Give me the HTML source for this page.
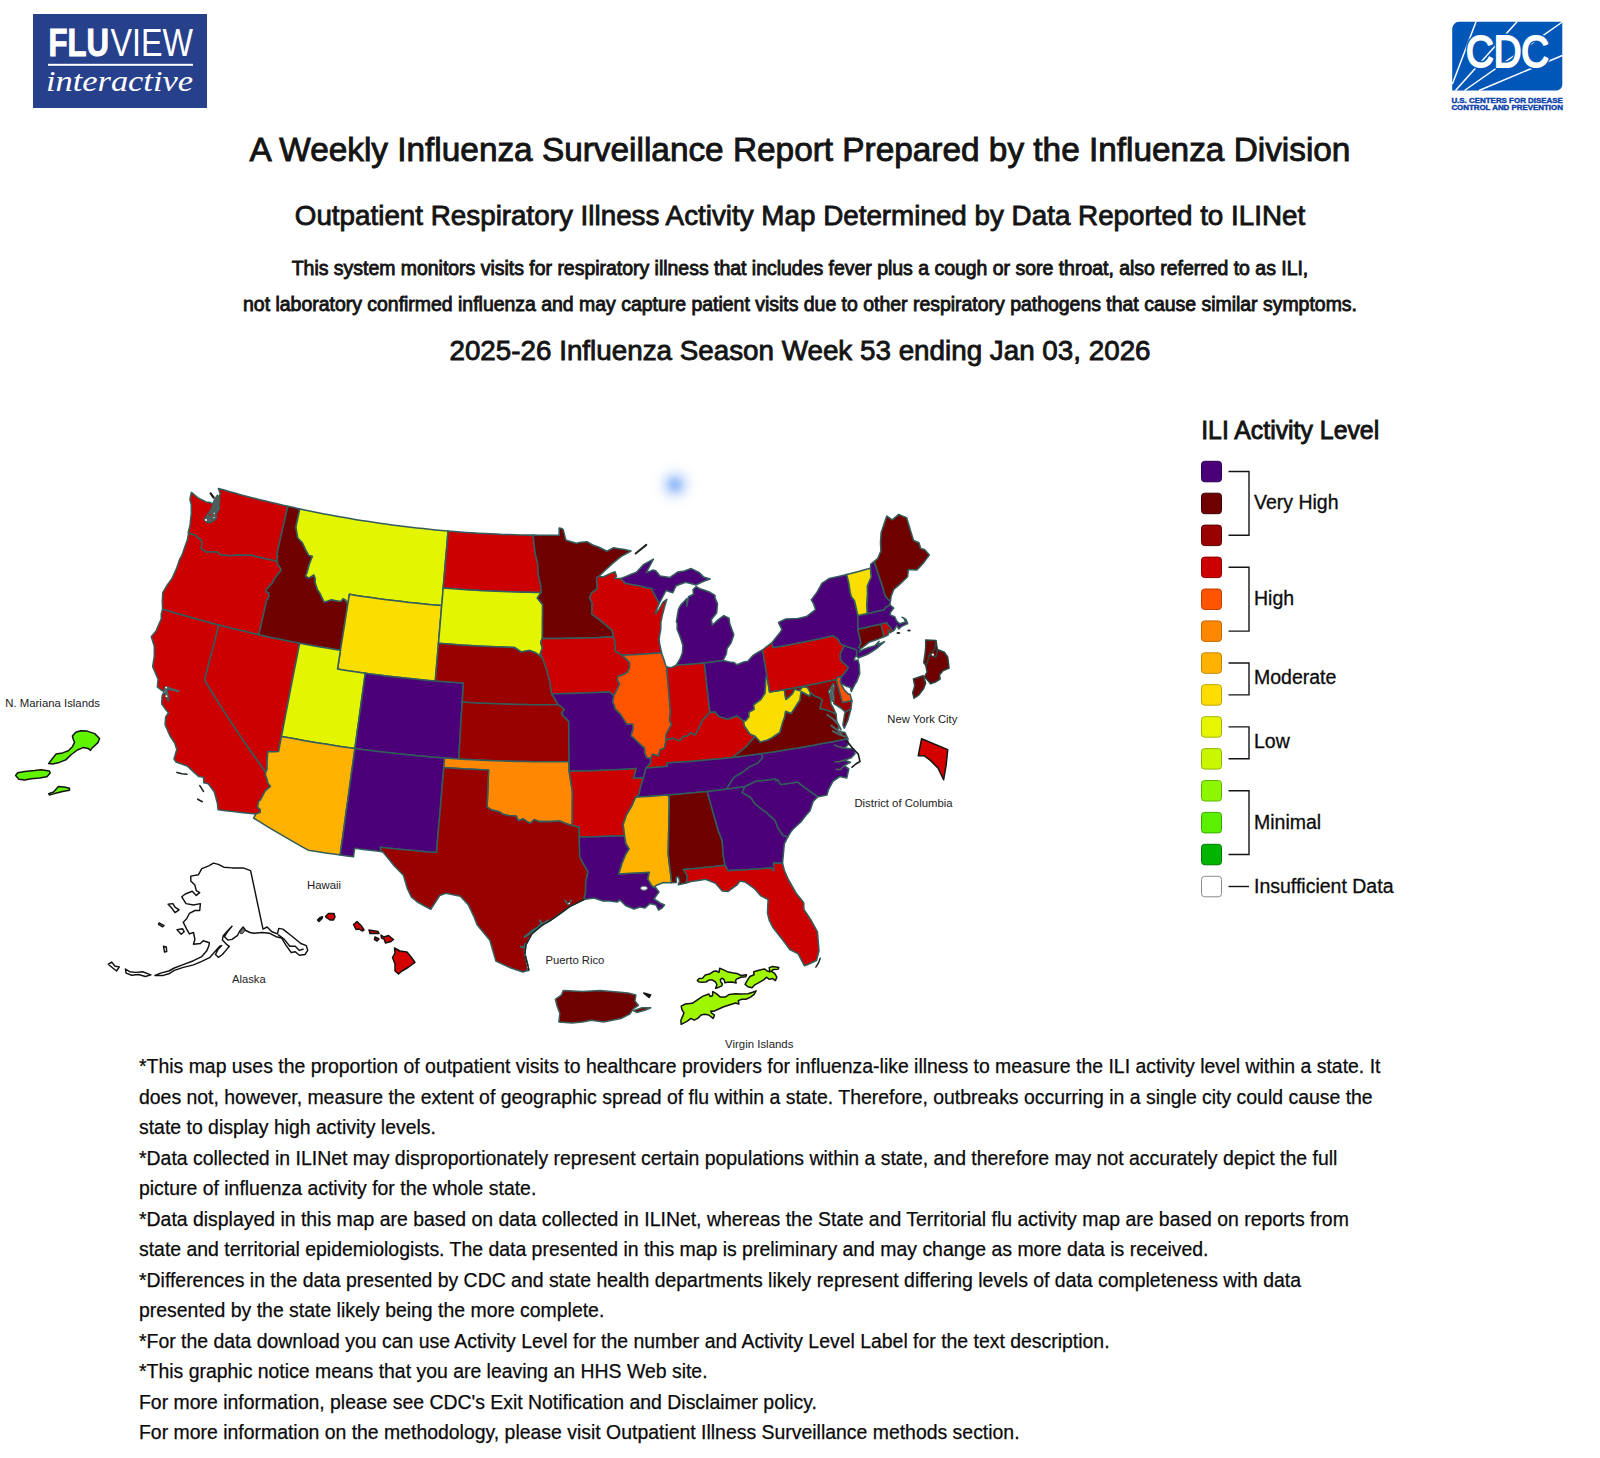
<!DOCTYPE html>
<html lang="en"><head><meta charset="utf-8"><title>FluView Interactive - ILI Activity Map</title>
<style>
html,body{margin:0;padding:0;background:#fff}
body{width:1600px;height:1458px;position:relative;overflow:hidden;font-family:"Liberation Sans",Arial,sans-serif;color:#111}
.t{position:absolute;left:0;width:1600px;text-align:center;white-space:nowrap;color:#141414}
#t1{top:130.2px;font-size:33.36px;line-height:40px;-webkit-text-stroke:0.9px #141414}
#t2{top:199.1px;font-size:27.8px;line-height:34px;-webkit-text-stroke:0.85px #141414}
#t3{top:256.3px;font-size:19.44px;line-height:24px;-webkit-text-stroke:0.85px #141414}
#t4{top:292.3px;font-size:19.44px;line-height:24px;-webkit-text-stroke:0.85px #141414}
#t5{top:334.4px;font-size:27.8px;line-height:34px;-webkit-text-stroke:0.85px #141414}
#foot{position:absolute;left:139px;top:1051px;width:1400px;font-size:19.43px;line-height:30.5px;color:#0a0a0a;white-space:nowrap;-webkit-text-stroke:0.25px #0a0a0a}
#foot div{height:30.5px}
svg{position:absolute;left:0;top:0}
.s{stroke:#345c5c;stroke-width:1.55;stroke-linejoin:round}
.i{stroke:#3f5f5f;stroke-width:1.5;stroke-linejoin:round}.ik{stroke:#141414;stroke-width:1.5;stroke-linejoin:round}.i2{stroke:#2c4646;stroke-width:1.5;stroke-linejoin:round}.ak{stroke:#111;stroke-width:1.45;stroke-linejoin:round}
.lab{font-family:"Liberation Sans",Arial,sans-serif;font-size:10.5px;fill:#222}
.leg{font-family:"Liberation Sans",Arial,sans-serif;font-size:19.5px;fill:#0c0c0c;stroke:#0c0c0c;stroke-width:0.3px}
</style></head><body>
<div class="t" id="t1">A Weekly Influenza Surveillance Report Prepared by the Influenza Division</div>
<div class="t" id="t2">Outpatient Respiratory Illness Activity Map Determined by Data Reported to ILINet</div>
<div class="t" id="t3">This system monitors visits for respiratory illness that includes fever plus a cough or sore throat, also referred to as ILI,</div>
<div class="t" id="t4">not laboratory confirmed influenza and may capture patient visits due to other respiratory pathogens that cause similar symptoms.</div>
<div class="t" id="t5">2025-26 Influenza Season Week 53 ending Jan 03, 2026</div>
<svg width="1600" height="1458" viewBox="0 0 1600 1458">
<defs><radialGradient id="bl"><stop offset="0" stop-color="#98bdf8" stop-opacity="1"/><stop offset="0.2" stop-color="#a0c2f8" stop-opacity="0.85"/><stop offset="0.45" stop-color="#b0ccfa" stop-opacity="0.42"/><stop offset="0.7" stop-color="#c0d8fc" stop-opacity="0.12"/><stop offset="1" stop-color="#d0e0ff" stop-opacity="0"/></radialGradient></defs>
<circle cx="675" cy="484.6" r="25" fill="url(#bl)"/>
<g id="fluview">
<rect x="33" y="14" width="174" height="94" fill="#27408b"/>
<text x="48.5" y="56.2" font-family="Liberation Sans,Arial,sans-serif" font-weight="700" font-size="38" fill="#fff" stroke="#fff" stroke-width="1" textLength="60.5" lengthAdjust="spacingAndGlyphs">FLU</text>
<text x="110.5" y="56.2" font-family="Liberation Sans,Arial,sans-serif" font-weight="400" font-size="38" fill="#fff" textLength="82.5" lengthAdjust="spacingAndGlyphs">VIEW</text>
<rect x="48" y="63.8" width="145" height="2" fill="#fff"/>
<text x="46" y="91.2" font-family="Liberation Serif,serif" font-style="italic" font-size="29" fill="#fff" textLength="147" lengthAdjust="spacingAndGlyphs">interactive</text>
</g>
<g id="cdc">
<path d="M1459,21.8H1562.3V84.5a6,6 0 0 1 -6,6H1452.2V28.8a7,7 0 0 1 6.8,-7Z" fill="#0057b8"/>
<g stroke="#fff" stroke-width="1.5" fill="none"><path d="M1452.4,84L1476,21.8"/><path d="M1455.5,90.5L1517,21.8"/><path d="M1464.5,90.5L1562.3,22"/><path d="M1479,90.5L1562.3,55.5"/></g>
<text x="1466" y="67" font-family="Liberation Sans,Arial,sans-serif" font-weight="400" font-size="43.5" fill="#0057b8" stroke="#0057b8" stroke-width="5" stroke-linejoin="round" textLength="83" lengthAdjust="spacingAndGlyphs">CDC</text><text x="1466" y="67" font-family="Liberation Sans,Arial,sans-serif" font-weight="400" font-size="43.5" fill="#fff" stroke="#fff" stroke-width="2" stroke-linejoin="round" textLength="83" lengthAdjust="spacingAndGlyphs">CDC</text>
<text x="1451.4" y="102.7" font-family="Liberation Sans,Arial,sans-serif" font-weight="700" font-size="7.2" fill="#0a3ea8" stroke="#0a3ea8" stroke-width="0.4" textLength="111.5" lengthAdjust="spacingAndGlyphs">U.S. CENTERS FOR DISEASE</text>
<text x="1451.4" y="110.2" font-family="Liberation Sans,Arial,sans-serif" font-weight="700" font-size="7.2" fill="#0a3ea8" stroke="#0a3ea8" stroke-width="0.4" textLength="111.5" lengthAdjust="spacingAndGlyphs">CONTROL AND PREVENTION</text>
</g>
<g id="map">
<path class="s" fill="#cc0000" d="M188.6,533.2L188.2,532.5L190.0,525.8L190.5,520.5L191.3,513.5L191.3,504.7L189.9,499.3L191.4,492.4L194.7,495.2L198.0,497.9L202.1,499.9L206.1,501.9L209.9,502.5L213.6,504.1L214.1,508.5L213.8,514.3L206.8,522.0L209.3,522.7L214.1,520.2L216.1,514.0L219.2,509.0L218.9,503.1L218.1,499.0L220.3,493.8L218.4,488.5L224.2,490.1L229.9,491.7L235.7,493.3L241.4,494.9L247.2,496.4L253.0,497.9L258.8,499.4L264.6,500.8L270.4,502.2L276.2,503.6L282.0,505.0L287.8,506.3L286.0,514.0L284.3,521.8L282.5,529.6L280.7,537.4L278.9,545.3L277.1,553.1L277.6,558.2L276.9,561.3L271.6,560.1L266.3,558.9L261.1,557.7L255.8,556.4L250.5,555.1L246.3,555.4L241.8,555.2L237.3,555.1L233.6,555.4L229.9,555.7L225.3,555.3L220.6,554.9L216.9,551.8L212.0,552.1L207.0,552.3L204.0,550.5L201.0,548.7L201.7,544.5L201.5,540.4L198.1,538.0L194.9,534.9L188.6,533.2Z"/>
<path class="s" fill="#cc0000" d="M188.6,533.2L194.9,534.9L198.1,538.0L201.5,540.4L201.7,544.5L201.0,548.7L204.0,550.5L207.0,552.3L212.0,552.1L216.9,551.8L220.6,554.9L225.3,555.3L229.9,555.7L233.6,555.4L237.3,555.1L241.8,555.2L246.3,555.4L250.5,555.1L255.8,556.4L261.1,557.7L266.3,558.9L271.6,560.1L276.9,561.3L278.3,565.1L280.9,568.9L280.8,570.9L278.6,573.2L276.6,575.9L273.6,580.4L272.4,582.7L266.9,589.0L265.8,591.6L269.0,593.3L268.9,596.6L266.5,600.9L264.6,609.3L262.7,617.8L260.8,626.2L258.9,634.7L252.2,633.2L245.5,631.6L238.8,630.0L232.2,628.4L225.5,626.7L218.8,625.0L212.5,623.4L206.3,621.7L200.0,620.0L193.7,618.3L187.5,616.5L181.2,614.7L175.0,612.9L168.8,611.0L162.6,609.2L162.3,601.1L162.8,592.6L167.3,584.9L172.1,578.4L174.4,573.2L176.7,568.0L179.8,559.1L181.8,555.7L184.9,546.8L187.4,539.7L188.6,533.2Z"/>
<path class="s" fill="#cc0000" d="M162.6,609.2L168.8,611.0L175.0,612.9L181.2,614.7L187.5,616.5L193.7,618.3L200.0,620.0L206.3,621.7L212.5,623.4L218.8,625.0L216.5,634.2L214.1,643.4L211.7,652.6L209.3,661.8L207.0,670.9L204.6,680.1L209.8,688.6L215.0,697.0L220.3,705.4L225.7,713.8L231.2,722.2L236.7,730.6L242.3,738.9L248.1,747.2L253.8,755.5L259.7,763.7L265.6,772.0L265.5,774.9L267.2,780.0L267.8,783.0L270.5,786.5L267.5,788.8L265.0,791.2L262.3,796.5L260.5,800.0L258.6,801.5L257.5,807.1L260.2,809.6L260.2,812.4L255.8,814.1L248.3,813.3L240.7,812.5L233.2,811.6L225.6,810.7L218.1,809.7L217.4,803.4L215.9,797.7L214.4,792.0L208.3,783.8L203.8,782.7L203.5,777.2L198.9,776.6L193.0,771.3L187.2,765.9L181.6,764.0L176.0,762.0L174.0,758.9L175.4,754.2L176.8,749.5L174.7,743.0L169.9,735.8L165.1,724.6L165.7,716.9L168.5,712.8L166.1,710.1L161.7,703.9L162.1,696.1L163.7,692.6L165.0,693.4L167.5,699.7L168.7,701.0L168.1,694.9L166.7,691.5L168.2,689.0L171.7,690.0L167.9,687.5L164.9,687.1L163.9,691.7L161.1,689.9L157.4,686.9L158.1,679.2L155.4,672.9L152.7,666.7L153.5,661.4L154.3,656.2L154.3,646.3L151.3,636.7L156.0,631.0L158.7,624.8L161.3,618.7L161.3,613.7L162.6,609.2Z"/>
<path class="s" fill="#cc0000" d="M218.8,625.0L225.5,626.7L232.2,628.4L238.8,630.0L245.5,631.6L252.2,633.2L258.9,634.7L265.7,636.2L272.4,637.7L279.2,639.1L286.0,640.5L292.8,641.8L299.6,643.2L297.8,652.5L296.0,661.8L294.1,671.1L292.3,680.4L290.5,689.7L288.7,699.1L286.9,708.4L285.1,717.7L283.3,727.0L281.5,736.4L280.0,743.9L278.6,751.5L273.9,751.7L267.8,751.5L267.7,753.0L267.1,760.7L267.0,769.5L265.6,772.0L259.7,763.7L253.8,755.5L248.1,747.2L242.3,738.9L236.7,730.6L231.2,722.2L225.7,713.8L220.3,705.4L215.0,697.0L209.8,688.6L204.6,680.1L207.0,670.9L209.3,661.8L211.7,652.6L214.1,643.4L216.5,634.2L218.8,625.0Z"/>
<path class="s" fill="#6e0000" d="M287.8,506.3L293.8,507.6L299.8,508.9L297.8,518.0L295.9,527.1L296.8,532.6L297.8,538.0L302.4,542.8L305.6,549.6L309.0,555.6L312.4,556.3L309.3,564.3L306.9,573.0L305.6,576.0L308.6,578.1L313.1,575.5L313.9,574.9L315.2,578.4L315.1,582.6L317.5,589.8L319.7,592.9L321.8,597.3L324.0,601.9L327.8,600.9L331.6,599.8L336.2,600.7L340.8,601.5L343.0,598.8L345.4,600.0L347.8,604.2L346.3,613.4L344.9,622.6L343.4,631.9L341.9,641.1L340.4,650.3L333.6,649.2L326.8,648.1L320.0,646.9L313.2,645.7L306.4,644.4L299.6,643.2L292.8,641.8L286.0,640.5L279.2,639.1L272.4,637.7L265.7,636.2L258.9,634.7L260.8,626.2L262.7,617.8L264.6,609.3L266.5,600.9L268.9,596.6L269.0,593.3L265.8,591.6L266.9,589.0L272.4,582.7L273.6,580.4L276.6,575.9L278.6,573.2L280.8,570.9L280.9,568.9L278.3,565.1L276.9,561.3L277.6,558.2L277.1,553.1L278.9,545.3L280.7,537.4L282.5,529.6L284.3,521.8L286.0,514.0L287.8,506.3Z"/>
<path class="s" fill="#e4f500" d="M299.8,508.9L305.9,510.2L312.0,511.5L318.1,512.7L324.3,513.9L330.4,515.0L336.6,516.2L342.7,517.3L348.9,518.3L355.0,519.4L361.2,520.4L367.4,521.3L373.6,522.3L379.7,523.2L385.9,524.1L392.1,524.9L398.3,525.7L404.5,526.5L410.7,527.2L416.9,527.9L423.2,528.6L429.4,529.3L435.6,529.9L441.8,530.4L448.0,531.0L447.4,539.1L446.7,547.2L446.0,555.3L445.3,563.5L444.6,571.6L443.9,579.8L443.2,588.0L442.5,596.8L441.7,605.6L435.1,605.0L428.5,604.4L421.9,603.8L415.3,603.1L408.6,602.4L402.0,601.6L395.4,600.8L388.9,600.0L382.3,599.2L375.7,598.3L369.1,597.3L362.5,596.4L356.0,595.4L349.4,594.3L348.6,599.3L347.8,604.2L345.4,600.0L343.0,598.8L340.8,601.5L336.2,600.7L331.6,599.8L327.8,600.9L324.0,601.9L321.8,597.3L319.7,592.9L317.5,589.8L315.1,582.6L315.2,578.4L313.9,574.9L313.1,575.5L308.6,578.1L305.6,576.0L306.9,573.0L309.3,564.3L312.4,556.3L309.0,555.6L305.6,549.6L302.4,542.8L297.8,538.0L296.8,532.6L295.9,527.1L297.8,518.0L299.8,508.9Z"/>
<path class="s" fill="#f9de00" d="M349.4,594.3L356.0,595.4L362.5,596.4L369.1,597.3L375.7,598.3L382.3,599.2L388.9,600.0L395.4,600.8L402.0,601.6L408.6,602.4L415.3,603.1L421.9,603.8L428.5,604.4L435.1,605.0L441.7,605.6L440.9,615.0L440.1,624.4L439.3,633.8L438.5,643.3L437.7,652.7L436.9,662.1L436.1,671.6L435.3,681.0L428.3,680.4L421.3,679.8L414.3,679.1L407.3,678.3L400.3,677.6L393.3,676.8L386.3,676.0L379.3,675.1L372.3,674.2L365.3,673.2L358.3,672.2L351.4,671.2L344.4,670.2L337.5,669.1L339.0,659.7L340.4,650.3L341.9,641.1L343.4,631.9L344.9,622.6L346.3,613.4L347.8,604.2L348.6,599.3L349.4,594.3Z"/>
<path class="s" fill="#e4f500" d="M299.6,643.2L306.4,644.4L313.2,645.7L320.0,646.9L326.8,648.1L333.6,649.2L340.4,650.3L339.0,659.7L337.5,669.1L344.4,670.2L351.4,671.2L358.3,672.2L365.3,673.2L364.0,682.6L362.7,692.0L361.4,701.4L360.1,710.8L358.8,720.3L357.5,729.7L356.2,739.1L354.9,748.5L347.5,747.5L340.2,746.4L332.8,745.3L325.5,744.1L318.1,742.9L310.8,741.7L303.5,740.4L296.1,739.1L288.8,737.8L281.5,736.4L283.3,727.0L285.1,717.7L286.9,708.4L288.7,699.1L290.5,689.7L292.3,680.4L294.1,671.1L296.0,661.8L297.8,652.5L299.6,643.2Z"/>
<path class="s" fill="#ffb300" d="M281.5,736.4L288.8,737.8L296.1,739.1L303.5,740.4L310.8,741.7L318.1,742.9L325.5,744.1L332.8,745.3L340.2,746.4L347.5,747.5L354.9,748.5L353.7,757.4L352.5,766.3L351.2,775.2L350.0,784.1L348.8,792.9L347.6,801.8L346.3,810.7L345.1,819.6L343.9,828.4L342.7,837.3L341.4,846.1L340.2,855.0L333.8,854.1L327.4,853.2L321.0,852.2L314.6,851.2L308.2,850.2L301.3,846.3L294.4,842.4L287.5,838.4L280.6,834.4L273.8,830.4L267.0,826.3L260.3,822.2L253.6,818.1L255.8,814.1L260.2,812.4L260.2,809.6L257.5,807.1L258.6,801.5L260.5,800.0L262.3,796.5L265.0,791.2L267.5,788.8L270.5,786.5L267.8,783.0L267.2,780.0L265.5,774.9L265.6,772.0L267.0,769.5L267.1,760.7L267.7,753.0L267.8,751.5L273.9,751.7L278.6,751.5L280.0,743.9L281.5,736.4Z"/>
<path class="s" fill="#4b0078" d="M365.3,673.2L372.3,674.2L379.3,675.1L386.3,676.0L393.3,676.8L400.3,677.6L407.3,678.3L414.3,679.1L421.3,679.8L428.3,680.4L435.3,681.0L442.3,681.6L449.3,682.1L456.4,682.6L463.4,683.1L462.8,692.6L462.2,702.1L461.6,711.5L461.0,721.0L460.5,730.5L459.9,740.0L459.3,749.5L458.7,759.0L451.6,758.5L444.5,758.0L437.6,757.4L430.6,756.9L423.7,756.3L416.8,755.7L410.0,755.0L403.1,754.3L396.2,753.6L389.3,752.8L382.4,752.0L375.5,751.2L368.7,750.3L361.8,749.4L354.9,748.5L356.2,739.1L357.5,729.7L358.8,720.3L360.1,710.8L361.4,701.4L362.7,692.0L364.0,682.6L365.3,673.2Z"/>
<path class="s" fill="#4b0078" d="M354.9,748.5L361.8,749.4L368.7,750.3L375.5,751.2L382.4,752.0L389.3,752.8L396.2,753.6L403.1,754.3L410.0,755.0L416.8,755.7L423.7,756.3L430.6,756.9L437.6,757.4L444.5,758.0L443.8,767.5L443.0,776.9L442.2,786.4L441.4,795.8L440.6,805.3L439.8,814.7L438.9,824.2L438.1,833.6L437.3,843.1L436.5,852.5L429.5,851.9L422.4,851.4L415.4,850.8L408.4,850.1L401.3,849.4L394.3,848.7L387.3,848.0L380.2,847.2L381.2,851.5L374.5,850.8L367.9,850.0L361.3,849.2L354.6,848.3L353.5,856.8L346.9,855.9L340.2,855.0L341.4,846.1L342.7,837.3L343.9,828.4L345.1,819.6L346.3,810.7L347.6,801.8L348.8,792.9L350.0,784.1L351.2,775.2L352.5,766.3L353.7,757.4L354.9,748.5Z"/>
<path class="s" fill="#cc0000" d="M448.0,531.0L454.1,531.5L460.2,532.0L466.3,532.4L472.3,532.8L478.4,533.2L484.5,533.5L490.6,533.8L496.7,534.1L502.7,534.4L508.8,534.6L514.9,534.8L521.0,534.9L527.1,535.1L533.2,535.1L534.1,544.5L535.2,553.8L537.7,563.2L538.0,568.8L538.2,574.4L539.5,580.0L540.7,585.7L541.2,592.4L534.7,592.4L528.1,592.3L521.6,592.2L515.1,592.0L508.5,591.8L502.0,591.6L495.4,591.3L488.9,591.0L482.4,590.7L475.8,590.3L469.3,589.9L462.8,589.5L456.2,589.0L449.7,588.5L443.2,588.0L443.9,579.8L444.6,571.6L445.3,563.5L446.0,555.3L446.7,547.2L447.4,539.1L448.0,531.0Z"/>
<path class="s" fill="#e4f500" d="M443.2,588.0L449.7,588.5L456.2,589.0L462.8,589.5L469.3,589.9L475.8,590.3L482.4,590.7L488.9,591.0L495.4,591.3L502.0,591.6L508.5,591.8L515.1,592.0L521.6,592.2L528.1,592.3L534.7,592.4L541.2,592.4L537.4,597.9L542.6,604.5L542.6,613.0L542.5,621.4L542.5,629.9L542.4,638.4L540.7,642.2L542.4,647.9L540.3,653.6L542.4,657.6L538.9,655.1L534.8,652.4L529.4,650.4L525.2,651.2L521.1,652.0L514.3,647.5L508.0,647.3L501.7,647.1L495.4,646.8L489.0,646.6L482.7,646.3L476.4,645.9L470.1,645.6L463.8,645.2L457.4,644.7L451.1,644.3L444.8,643.8L438.5,643.3L439.3,633.8L440.1,624.4L440.9,615.0L441.7,605.6L442.5,596.8L443.2,588.0Z"/>
<path class="s" fill="#990000" d="M438.5,643.3L444.8,643.8L451.1,644.3L457.4,644.7L463.8,645.2L470.1,645.6L476.4,645.9L482.7,646.3L489.0,646.6L495.4,646.8L501.7,647.1L508.0,647.3L514.3,647.5L521.1,652.0L525.2,651.2L529.4,650.4L534.8,652.4L538.9,655.1L542.4,657.6L544.4,663.1L547.2,671.6L549.7,680.9L550.7,687.7L551.8,693.8L555.0,699.1L558.4,704.8L551.5,704.8L544.7,704.8L537.8,704.8L530.9,704.7L524.0,704.6L517.2,704.4L510.3,704.3L503.4,704.1L496.5,703.8L489.7,703.5L482.8,703.2L475.9,702.9L469.1,702.5L462.2,702.1L462.8,692.6L463.4,683.1L456.4,682.6L449.3,682.1L442.3,681.6L435.3,681.0L436.1,671.6L436.9,662.1L437.7,652.7L438.5,643.3Z"/>
<path class="s" fill="#990000" d="M462.2,702.1L469.1,702.5L475.9,702.9L482.8,703.2L489.7,703.5L496.5,703.8L503.4,704.1L510.3,704.3L517.2,704.4L524.0,704.6L530.9,704.7L537.8,704.8L544.7,704.8L551.5,704.8L558.4,704.8L562.2,707.2L564.3,709.5L561.5,713.3L564.4,717.1L568.8,721.4L568.9,729.4L568.9,737.5L569.0,745.5L569.0,753.6L569.1,761.7L561.7,761.7L554.4,761.8L547.0,761.8L539.6,761.8L532.3,761.7L524.9,761.6L517.6,761.5L510.2,761.3L502.8,761.1L495.5,760.8L488.1,760.5L480.8,760.2L473.4,759.8L466.1,759.4L458.7,759.0L459.3,749.5L459.9,740.0L460.5,730.5L461.0,721.0L461.6,711.5L462.2,702.1Z"/>
<path class="s" fill="#ff8800" d="M444.5,758.0L451.6,758.5L458.7,759.0L466.1,759.4L473.4,759.8L480.8,760.2L488.1,760.5L495.5,760.8L502.8,761.1L510.2,761.3L517.6,761.5L524.9,761.6L532.3,761.7L539.6,761.8L547.0,761.8L554.4,761.8L561.7,761.7L569.1,761.7L569.2,771.2L570.3,778.2L571.4,785.2L572.4,792.2L572.4,800.5L572.3,808.8L572.3,817.1L572.2,825.4L566.4,823.8L559.4,821.0L551.7,821.6L545.5,821.6L539.3,821.6L534.6,819.6L529.9,823.4L523.0,818.9L518.3,820.7L516.1,815.9L508.4,815.4L503.0,814.3L499.2,811.7L491.6,810.1L487.1,806.9L487.5,797.7L487.9,788.5L488.2,779.3L488.6,770.0L481.2,769.7L473.7,769.3L466.2,768.9L458.7,768.5L451.2,768.0L443.8,767.5L444.5,758.0Z"/>
<path class="s" fill="#990000" d="M436.5,852.5L437.3,843.1L438.1,833.6L438.9,824.2L439.8,814.7L440.6,805.3L441.4,795.8L442.2,786.4L443.0,776.9L443.8,767.5L451.2,768.0L458.7,768.5L466.2,768.9L473.7,769.3L481.2,769.7L488.6,770.0L488.2,779.3L487.9,788.5L487.5,797.7L487.1,806.9L491.6,810.1L499.2,811.7L503.0,814.3L508.4,815.4L516.1,815.9L518.3,820.7L523.0,818.9L529.9,823.4L534.6,819.6L539.3,821.6L545.5,821.6L551.7,821.6L559.4,821.0L566.4,823.8L572.2,825.4L579.1,827.0L579.2,832.0L579.3,837.0L579.4,843.5L579.6,850.0L579.7,856.5L583.4,863.8L587.9,871.6L586.8,877.1L585.7,882.6L585.6,892.1L583.9,899.6L576.9,903.1L569.9,906.5L563.4,911.3L556.8,916.0L550.2,920.7L541.9,925.4L536.9,929.6L531.9,933.8L528.9,939.4L525.9,944.9L524.9,954.3L526.9,962.2L528.9,970.0L522.9,972.0L517.0,970.0L511.0,968.0L503.4,964.6L495.9,961.1L493.9,954.1L491.9,947.2L489.9,940.3L483.5,932.5L477.1,924.7L474.2,917.1L471.2,910.8L468.2,904.6L460.4,896.2L453.2,894.8L445.9,893.2L439.7,895.5L435.3,902.4L430.8,909.3L424.1,905.7L417.4,902.0L411.2,896.8L407.1,887.9L405.3,881.6L403.4,875.3L399.0,870.8L394.6,866.2L388.9,859.3L383.2,852.3L381.2,851.5L380.2,847.2L387.3,848.0L394.3,848.7L401.3,849.4L408.4,850.1L415.4,850.8L422.4,851.4L429.5,851.9L436.5,852.5Z"/>
<path class="s" fill="#6e0000" d="M533.2,535.1L538.4,535.2L543.6,535.2L548.8,535.2L554.0,535.2L559.2,535.2L559.1,528.1L561.6,528.5L563.2,529.6L565.1,537.4L566.1,540.3L571.2,541.8L576.3,543.3L581.3,542.2L586.9,541.7L592.7,545.0L599.1,547.2L603.0,549.2L606.9,551.2L610.3,549.5L613.7,547.8L619.1,548.7L624.6,549.6L631.0,551.0L626.1,553.7L621.2,556.4L616.9,559.9L612.6,563.4L608.9,566.9L605.2,570.3L599.0,576.2L596.6,578.0L596.8,583.4L597.1,588.9L591.2,593.4L589.6,598.2L592.2,602.8L592.0,608.5L591.9,614.1L598.1,618.6L603.6,623.1L607.8,626.7L612.1,630.3L613.5,636.8L607.0,637.1L600.6,637.4L594.1,637.7L587.7,637.9L581.2,638.1L574.7,638.2L568.3,638.3L561.8,638.4L555.4,638.4L548.9,638.5L542.4,638.4L542.5,629.9L542.5,621.4L542.6,613.0L542.6,604.5L537.4,597.9L541.2,592.4L540.7,585.7L539.5,580.0L538.2,574.4L538.0,568.8L537.7,563.2L535.2,553.8L534.1,544.5L533.2,535.1Z"/>
<path class="s" fill="#cc0000" d="M542.4,638.4L548.9,638.5L555.4,638.4L561.8,638.4L568.3,638.3L574.7,638.2L581.2,638.1L587.7,637.9L594.1,637.7L600.6,637.4L607.0,637.1L613.5,636.8L615.5,644.3L615.2,651.0L622.3,655.3L625.9,658.9L629.6,662.5L629.5,667.6L627.4,672.1L624.0,674.2L617.9,676.4L617.4,680.3L619.7,683.9L617.7,687.8L613.9,695.6L609.0,691.9L602.7,692.2L596.3,692.5L590.0,692.8L583.6,693.0L577.3,693.2L570.9,693.4L564.5,693.6L558.2,693.7L551.8,693.8L550.7,687.7L549.7,680.9L547.2,671.6L544.4,663.1L542.4,657.6L540.3,653.6L542.4,647.9L540.7,642.2L542.4,638.4Z"/>
<path class="s" fill="#4b0078" d="M551.8,693.8L558.2,693.7L564.5,693.6L570.9,693.4L577.3,693.2L583.6,693.0L590.0,692.8L596.3,692.5L602.7,692.2L609.0,691.9L613.9,695.6L612.8,702.3L614.3,705.1L615.2,708.9L620.6,714.3L625.3,721.7L626.9,723.9L632.7,724.1L633.2,728.2L631.2,735.6L635.1,739.2L638.2,742.2L644.5,748.1L644.8,752.8L646.7,757.5L650.8,758.5L650.8,762.9L648.0,765.9L645.9,768.0L644.7,772.8L643.5,777.7L638.5,778.0L633.4,778.3L636.2,768.6L628.7,769.1L621.3,769.5L613.9,769.8L606.4,770.1L599.0,770.4L591.6,770.7L584.1,770.9L576.7,771.0L569.2,771.2L569.1,761.7L569.0,753.6L569.0,745.5L568.9,737.5L568.9,729.4L568.8,721.4L564.4,717.1L561.5,713.3L564.3,709.5L562.2,707.2L558.4,704.8L555.0,699.1L551.8,693.8Z"/>
<path class="s" fill="#cc0000" d="M569.2,771.2L576.7,771.0L584.1,770.9L591.6,770.7L599.0,770.4L606.4,770.1L613.9,769.8L621.3,769.5L628.7,769.1L636.2,768.6L633.4,778.3L638.5,778.0L643.5,777.7L640.4,787.4L639.0,794.5L635.6,797.2L632.3,805.0L626.6,814.8L623.2,824.5L623.9,830.1L624.6,835.8L617.0,836.1L609.5,836.3L601.9,836.6L594.4,836.8L586.8,836.9L579.3,837.0L579.2,832.0L579.1,827.0L572.2,825.4L572.3,817.1L572.3,808.8L572.4,800.5L572.4,792.2L571.4,785.2L570.3,778.2L569.2,771.2Z"/>
<path class="s" fill="#4b0078" d="M579.3,837.0L586.8,836.9L594.4,836.8L601.9,836.6L609.5,836.3L617.0,836.1L624.6,835.8L625.8,843.3L629.2,848.8L625.6,854.7L622.0,863.4L620.4,868.6L618.8,873.9L626.4,873.5L634.1,873.1L641.7,872.7L649.3,872.2L647.8,878.9L651.5,885.3L653.7,887.4L655.5,887.5L659.0,892.0L656.0,896.0L654.0,899.0L660.0,903.0L664.5,905.0L662.0,908.0L658.5,910.0L656.0,905.0L650.0,903.5L645.0,908.0L640.0,907.0L634.0,909.0L629.0,907.0L625.5,905.5L620.0,900.0L617.0,902.0L610.0,901.0L603.0,901.0L598.5,899.5L594.0,898.0L588.9,898.8L583.9,899.6L585.6,892.1L585.7,882.6L586.8,877.1L587.9,871.6L583.4,863.8L579.7,856.5L579.6,850.0L579.4,843.5L579.3,837.0Z"/>
<path class="s" fill="#cc0000" d="M599.0,576.2L602.9,577.0L606.8,575.2L610.5,573.4L615.0,571.7L616.5,576.3L614.7,578.3L620.9,578.5L625.4,583.3L632.0,584.4L638.6,585.4L645.3,587.6L652.0,588.5L652.6,591.1L656.8,598.9L659.2,603.4L655.9,611.3L655.5,614.1L659.1,609.1L663.1,602.1L666.8,599.3L664.3,607.7L662.3,615.4L660.9,622.2L660.8,628.8L659.9,634.1L659.0,639.4L659.6,643.2L660.5,647.9L661.5,652.7L655.0,653.2L648.4,653.7L641.9,654.2L635.4,654.6L628.8,655.0L622.3,655.3L615.2,651.0L615.5,644.3L613.5,636.8L612.1,630.3L607.8,626.7L603.6,623.1L598.1,618.6L591.9,614.1L592.0,608.5L592.2,602.8L589.6,598.2L591.2,593.4L597.1,588.9L596.8,583.4L596.6,578.0L599.0,576.2Z"/>
<path class="s" fill="#ff5500" d="M622.3,655.3L628.8,655.0L635.4,654.6L641.9,654.2L648.4,653.7L655.0,653.2L661.5,652.7L664.3,660.8L665.3,664.5L666.6,667.1L667.4,676.0L668.2,684.9L669.0,693.9L669.7,702.8L670.5,711.7L669.5,720.4L671.6,724.4L666.3,734.0L665.8,741.7L664.4,748.1L660.2,749.8L658.5,756.0L652.4,754.2L650.8,758.5L646.7,757.5L644.8,752.8L644.5,748.1L638.2,742.2L635.1,739.2L631.2,735.6L633.2,728.2L632.7,724.1L626.9,723.9L625.3,721.7L620.6,714.3L615.2,708.9L614.3,705.1L612.8,702.3L613.9,695.6L617.7,687.8L619.7,683.9L617.4,680.3L617.9,676.4L624.0,674.2L627.4,672.1L629.5,667.6L629.6,662.5L625.9,658.9L622.3,655.3Z"/>
<path class="s" fill="#4b0078" d="M676.3,665.2L681.9,664.8L687.5,664.4L693.1,664.0L698.7,663.5L704.3,663.0L710.6,662.2L716.8,661.3L723.0,660.4L726.3,653.9L727.0,648.6L731.1,642.7L733.8,634.7L731.8,629.2L729.8,623.8L729.0,618.2L723.8,615.6L718.3,619.6L712.2,625.2L711.4,619.6L716.7,612.8L717.5,603.6L714.9,597.8L715.0,595.3L709.2,591.9L704.6,590.3L699.9,588.7L696.2,586.7L693.0,589.5L693.5,594.2L688.5,596.7L686.9,606.3L686.7,598.8L680.7,605.1L678.5,609.1L677.4,615.4L676.4,621.7L677.2,623.5L677.1,629.2L680.2,636.9L682.9,645.2L682.5,652.4L680.3,658.4L676.3,665.2Z M620.9,578.5L625.4,583.3L632.0,584.4L638.6,585.4L645.3,587.6L652.0,588.5L652.6,591.1L656.8,598.9L659.2,603.4L662.6,597.0L666.0,590.5L672.8,592.7L676.1,585.7L680.8,584.0L685.6,582.3L690.8,583.6L696.0,585.0L699.3,583.4L702.6,581.8L706.4,580.3L710.2,578.9L703.4,576.9L699.5,572.7L695.4,570.6L691.2,568.6L687.8,569.8L684.3,571.1L677.9,571.9L674.0,574.7L670.0,577.5L665.0,576.7L660.1,576.0L655.7,570.7L653.0,570.0L649.6,571.4L646.1,572.8L649.8,566.0L653.4,559.2L648.5,561.9L643.5,564.6L640.0,568.4L636.4,572.2L631.2,574.3L626.1,576.4L620.9,578.5Z"/>
<path class="s" fill="#cc0000" d="M666.6,667.1L671.2,667.8L676.3,665.2L681.9,664.8L687.5,664.4L693.1,664.0L698.7,663.5L704.3,663.0L705.3,671.2L706.2,679.4L707.1,687.7L708.1,695.9L709.0,704.2L709.9,712.4L706.1,716.4L702.4,720.4L698.2,729.6L695.1,735.1L690.5,732.7L687.8,735.8L683.5,736.7L679.5,740.9L672.6,738.2L667.5,739.6L665.8,741.7L666.3,734.0L671.6,724.4L669.5,720.4L670.5,711.7L669.7,702.8L669.0,693.9L668.2,684.9L667.4,676.0L666.6,667.1Z"/>
<path class="s" fill="#4b0078" d="M704.3,663.0L710.6,662.2L716.8,661.3L723.0,660.4L729.6,662.0L733.8,662.4L737.0,664.8L743.7,661.9L747.8,661.3L753.2,655.3L757.9,652.5L762.6,649.8L764.0,658.1L765.4,666.5L766.8,674.8L765.7,679.6L765.5,686.0L765.0,693.2L760.9,699.6L756.3,702.9L753.7,705.0L754.2,709.3L748.9,712.4L748.9,716.8L745.7,720.7L743.6,721.1L737.0,716.0L732.1,717.7L727.1,719.3L719.5,717.0L714.5,711.9L709.9,712.4L709.0,704.2L708.1,695.9L707.1,687.7L706.2,679.4L705.3,671.2L704.3,663.0Z"/>
<path class="s" fill="#cc0000" d="M645.9,768.0L648.0,765.9L650.8,762.9L650.8,758.5L652.4,754.2L658.5,756.0L660.2,749.8L664.4,748.1L665.8,741.7L667.5,739.6L672.6,738.2L679.5,740.9L683.5,736.7L687.8,735.8L690.5,732.7L695.1,735.1L698.2,729.6L702.4,720.4L706.1,716.4L709.9,712.4L714.5,711.9L719.5,717.0L727.1,719.3L732.1,717.7L737.0,716.0L743.6,721.1L744.2,725.8L749.9,734.0L755.1,736.3L750.5,741.7L745.8,747.0L739.1,752.3L732.4,757.5L725.4,758.2L718.4,758.9L711.4,759.6L704.4,760.2L697.4,760.8L690.4,761.4L684.6,761.8L678.8,762.2L672.9,762.6L667.1,762.9L667.4,766.3L660.2,766.9L653.1,767.5L645.9,768.0Z"/>
<path class="s" fill="#4b0078" d="M645.9,768.0L653.1,767.5L660.2,766.9L667.4,766.3L667.1,762.9L672.9,762.6L678.8,762.2L684.6,761.8L690.4,761.4L697.4,760.8L704.4,760.2L711.4,759.6L718.4,758.9L725.4,758.2L732.4,757.5L739.8,756.5L747.3,755.6L754.7,754.5L762.1,753.5L762.5,758.0L757.9,763.1L754.0,764.9L750.0,766.6L743.2,772.0L738.9,774.4L734.6,776.9L730.1,783.2L726.7,789.0L720.2,789.9L713.7,790.7L707.2,791.5L700.7,792.1L694.1,792.7L687.5,793.3L680.9,793.9L674.3,794.4L667.6,794.9L661.2,795.4L654.8,795.9L648.4,796.4L642.0,796.8L635.6,797.2L639.0,794.5L640.4,787.4L643.5,777.7L644.7,772.8L645.9,768.0Z"/>
<path class="s" fill="#ffb300" d="M635.6,797.2L642.0,796.8L648.4,796.4L654.8,795.9L661.2,795.4L667.6,794.9L669.3,796.9L669.2,806.4L669.0,815.9L668.8,825.4L668.6,834.8L668.4,844.3L668.2,853.8L669.0,861.0L669.9,868.2L670.8,875.5L671.6,882.7L663.5,882.6L657.1,884.9L653.7,887.4L651.5,885.3L647.8,878.9L649.3,872.2L641.7,872.7L634.1,873.1L626.4,873.5L618.8,873.9L620.4,868.6L622.0,863.4L625.6,854.7L629.2,848.8L625.8,843.3L624.6,835.8L623.9,830.1L623.2,824.5L626.6,814.8L632.3,805.0L635.6,797.2Z"/>
<path class="s" fill="#6e0000" d="M667.6,794.9L674.3,794.4L680.9,793.9L687.5,793.3L694.1,792.7L700.7,792.1L707.2,791.5L709.4,799.3L711.6,807.1L713.8,814.9L716.0,822.7L718.2,830.5L720.2,835.7L722.2,840.9L722.7,848.0L723.1,855.1L724.1,860.2L725.1,865.3L718.1,866.1L711.2,866.9L704.3,867.6L697.3,868.3L690.4,868.9L683.5,869.6L687.3,875.9L686.3,883.0L678.3,884.8L679.6,881.3L678.4,876.6L676.1,877.8L676.5,882.5L671.6,882.7L670.8,875.5L669.9,868.2L669.0,861.0L668.2,853.8L668.4,844.3L668.6,834.8L668.8,825.4L669.0,815.9L669.2,806.4L669.3,796.9L667.6,794.9Z"/>
<path class="s" fill="#4b0078" d="M707.2,791.5L713.7,790.7L720.2,789.9L726.7,789.0L732.8,788.2L738.9,787.3L745.0,786.5L742.1,792.6L750.5,797.2L755.4,804.2L762.5,809.8L766.8,812.7L775.1,820.4L777.8,827.6L783.0,835.5L787.8,837.0L784.3,843.9L783.4,853.6L782.5,863.1L778.0,863.1L773.5,863.1L773.9,871.0L770.9,867.9L763.8,868.4L756.6,868.9L749.4,869.4L742.3,869.9L735.1,870.3L728.0,870.7L725.1,865.3L724.1,860.2L723.1,855.1L722.7,848.0L722.2,840.9L720.2,835.7L718.2,830.5L716.0,822.7L713.8,814.9L711.6,807.1L709.4,799.3L707.2,791.5Z"/>
<path class="s" fill="#cc0000" d="M686.3,883.0L687.3,875.9L683.5,869.6L690.4,868.9L697.3,868.3L704.3,867.6L711.2,866.9L718.1,866.1L725.1,865.3L728.0,870.7L735.1,870.3L742.3,869.9L749.4,869.4L756.6,868.9L763.8,868.4L770.9,867.9L773.9,871.0L773.5,863.1L778.0,863.1L782.5,863.1L784.4,870.6L788.3,879.5L792.3,886.5L796.3,893.5L800.0,898.1L803.7,902.8L803.9,909.4L807.3,914.5L810.7,919.7L814.0,925.7L817.4,931.8L818.2,941.2L819.0,950.5L816.6,960.3L812.2,962.5L807.7,964.6L804.4,965.7L801.3,959.8L798.2,953.8L789.8,949.5L786.0,944.4L782.2,939.3L777.5,933.3L772.9,927.4L769.3,920.3L767.5,913.0L767.8,906.3L768.1,899.6L760.9,895.9L754.1,888.3L745.0,881.9L740.0,881.0L737.2,884.8L732.6,888.1L728.1,891.5L722.3,890.9L715.7,883.4L710.6,881.3L705.5,879.2L698.3,880.4L691.0,881.6L686.3,883.0Z"/>
<path class="s" fill="#4b0078" d="M745.0,786.5L750.5,783.8L755.9,781.1L762.5,780.4L769.1,779.8L775.7,779.0L776.0,780.9L777.6,779.7L780.7,784.6L786.4,783.8L792.0,783.0L797.6,782.1L804.3,787.1L811.0,792.0L817.8,796.8L813.1,801.5L810.0,810.8L806.0,815.3L800.8,822.0L797.0,825.5L793.2,829.0L790.5,832.3L787.8,837.0L783.0,835.5L777.8,827.6L775.1,820.4L766.8,812.7L762.5,809.8L755.4,804.2L750.5,797.2L742.1,792.6L745.0,786.5Z"/>
<path class="s" fill="#4b0078" d="M726.7,789.0L730.1,783.2L734.6,776.9L738.9,774.4L743.2,772.0L750.0,766.6L754.0,764.9L757.9,763.1L762.5,758.0L762.1,753.5L769.2,752.4L776.4,751.4L783.6,750.2L790.7,749.1L797.9,747.9L805.0,746.7L812.2,745.4L819.3,744.1L826.4,742.8L833.5,741.4L840.7,740.0L847.8,738.6L848.0,745.0L843.9,748.1L848.8,748.6L853.8,749.0L855.0,753.7L851.3,757.8L844.3,760.2L850.5,762.3L844.3,765.6L848.8,768.9L846.8,777.9L839.7,776.5L832.9,781.4L828.3,790.0L826.9,795.1L822.3,796.0L817.8,796.8L811.0,792.0L804.3,787.1L797.6,782.1L792.0,783.0L786.4,783.8L780.7,784.6L777.6,779.7L776.0,780.9L775.7,779.0L769.1,779.8L762.5,780.4L755.9,781.1L750.5,783.8L745.0,786.5L738.9,787.3L732.8,788.2L726.7,789.0Z"/>
<path class="s" fill="#6e0000" d="M732.4,757.5L739.1,752.3L745.8,747.0L750.5,741.7L755.1,736.3L760.3,742.0L767.0,740.2L772.1,737.7L776.0,735.0L779.8,732.4L782.4,723.1L784.4,717.5L785.6,711.2L791.1,713.5L792.0,712.2L796.1,705.8L799.8,700.3L801.1,691.5L805.4,693.8L809.7,696.1L810.4,692.5L814.5,695.9L819.2,697.5L822.3,700.2L819.9,708.4L824.6,709.4L831.0,711.6L836.1,714.2L836.6,720.5L838.5,726.0L837.9,730.0L839.7,731.5L844.9,732.4L847.8,738.6L840.7,740.0L833.5,741.4L826.4,742.8L819.3,744.1L812.2,745.4L805.0,746.7L797.9,747.9L790.7,749.1L783.6,750.2L776.4,751.4L769.2,752.4L762.1,753.5L754.7,754.5L747.3,755.6L739.8,756.5L732.4,757.5Z M845.3,711.9L850.9,709.1L849.4,714.6L847.9,720.1L844.3,728.2L842.9,725.0L844.5,715.0L845.3,711.9Z"/>
<path class="s" fill="#f9de00" d="M743.6,721.1L745.7,720.7L748.9,716.8L748.9,712.4L754.2,709.3L753.7,705.0L756.3,702.9L760.9,699.6L765.0,693.2L765.5,686.0L765.7,679.6L766.8,674.8L768.2,683.5L769.6,692.1L774.5,691.3L779.4,690.4L784.3,689.6L785.1,694.5L785.9,699.3L788.9,696.9L792.4,693.5L794.7,689.1L799.5,690.5L802.7,686.6L807.7,687.6L810.4,692.5L809.7,696.1L805.4,693.8L801.1,691.5L799.8,700.3L796.1,705.8L792.0,712.2L791.1,713.5L785.6,711.2L784.4,717.5L782.4,723.1L779.8,732.4L776.0,735.0L772.1,737.7L767.0,740.2L760.3,742.0L755.1,736.3L749.9,734.0L744.2,725.8L743.6,721.1Z"/>
<path class="s" fill="#990000" d="M784.3,689.6L790.8,688.4L797.3,687.2L803.8,686.0L810.3,684.8L816.8,683.5L823.3,682.2L829.7,680.8L836.2,679.4L838.3,687.1L840.4,694.8L842.6,702.6L847.2,701.6L851.9,700.7L850.9,709.1L845.3,711.9L840.7,708.0L833.8,703.6L834.1,697.8L833.6,692.0L834.5,686.0L833.2,683.4L829.5,690.0L828.3,691.2L829.9,695.7L831.0,704.2L833.2,707.7L835.3,712.3L836.1,714.2L831.0,711.6L824.6,709.4L819.9,708.4L822.3,700.2L819.2,697.5L814.5,695.9L810.4,692.5L807.7,687.6L802.7,686.6L799.5,690.5L794.7,689.1L792.4,693.5L788.9,696.9L785.9,699.3L785.1,694.5L784.3,689.6Z"/>
<path class="s" fill="#ff5500" d="M836.2,679.4L837.7,677.0L840.6,676.5L841.4,676.8L840.3,681.9L841.8,685.4L844.2,689.7L848.1,693.8L850.0,694.3L851.9,700.7L847.2,701.6L842.6,702.6L840.4,694.8L838.3,687.1L836.2,679.4Z"/>
<path class="s" fill="#cc0000" d="M762.6,649.8L767.4,646.2L772.1,642.6L773.0,647.6L779.7,646.5L786.4,645.3L793.1,644.0L799.7,642.7L806.4,641.4L813.1,640.1L819.8,638.7L826.4,637.3L833.1,635.8L837.7,638.7L840.6,643.9L844.6,645.7L842.5,649.3L840.3,654.1L840.5,659.8L843.3,662.7L848.5,667.4L844.9,673.0L841.4,676.8L840.6,676.5L837.7,677.0L836.2,679.4L829.7,680.8L823.3,682.2L816.8,683.5L810.3,684.8L803.8,686.0L797.3,687.2L790.8,688.4L784.3,689.6L779.4,690.4L774.5,691.3L769.6,692.1L768.2,683.5L766.8,674.8L765.4,666.5L764.0,658.1L762.6,649.8Z"/>
<path class="s" fill="#4b0078" d="M844.6,645.7L842.5,649.3L840.3,654.1L840.5,659.8L843.3,662.7L848.5,667.4L844.9,673.0L841.4,676.8L840.3,680.9L841.4,683.6L846.4,686.3L850.4,687.4L851.3,691.5L854.9,684.4L857.0,681.0L859.7,673.5L859.2,664.9L858.0,659.9L854.2,660.6L854.5,657.6L856.6,655.8L856.8,649.9L850.7,647.8L844.6,645.7Z"/>
<path class="s" fill="#4b0078" d="M772.1,642.6L775.9,637.8L779.7,633.0L781.9,629.7L778.5,622.4L782.0,620.8L785.4,619.1L791.6,618.8L797.8,618.6L802.5,617.4L807.1,616.2L811.3,612.9L815.5,609.6L813.4,603.3L811.3,599.9L814.3,595.9L817.2,591.9L822.1,583.1L825.6,580.9L829.0,578.6L834.9,577.3L840.8,575.9L846.7,574.5L848.9,583.6L850.3,593.0L851.4,596.6L854.5,600.7L856.2,608.1L857.8,615.5L857.9,622.3L857.9,629.1L859.4,636.1L860.9,643.0L858.9,647.4L860.5,649.0L859.4,652.2L862.8,649.8L868.1,647.7L874.9,645.8L879.1,641.2L877.6,644.8L881.0,643.2L884.5,641.6L880.7,644.9L877.0,648.2L872.0,651.5L866.9,654.6L862.6,656.3L858.2,657.9L856.6,655.8L856.8,649.9L850.7,647.8L844.6,645.7L840.6,643.9L837.7,638.7L833.1,635.8L826.4,637.3L819.8,638.7L813.1,640.1L806.4,641.4L799.7,642.7L793.1,644.0L786.4,645.3L779.7,646.5L773.0,647.6L772.1,642.6Z"/>
<path class="s" fill="#6e0000" d="M857.9,629.1L863.6,627.9L869.4,626.6L875.1,625.3L880.9,623.9L882.3,629.4L883.8,635.0L883.4,637.0L879.9,638.4L876.3,639.8L869.6,641.9L866.0,644.7L860.5,649.0L858.9,647.4L860.9,643.0L859.4,636.1L857.9,629.1Z"/>
<path class="s" fill="#cc0000" d="M880.9,623.9L886.5,622.5L887.8,624.5L890.5,627.7L892.6,631.1L889.7,632.8L888.1,629.3L888.3,633.2L888.1,635.0L883.4,637.0L883.8,635.0L882.3,629.4L880.9,623.9Z"/>
<path class="s" fill="#4b0078" d="M857.9,629.1L857.9,622.3L857.8,615.5L862.7,614.5L867.5,613.5L873.1,612.3L878.7,611.0L884.3,609.7L885.1,607.5L889.8,604.9L893.8,608.1L890.6,612.0L890.0,615.1L894.7,616.7L896.7,621.1L899.6,623.8L905.6,622.0L904.0,618.1L902.1,617.3L906.0,619.5L907.7,623.5L901.7,626.2L898.8,629.0L896.8,625.4L894.1,630.3L892.6,631.1L890.5,627.7L887.8,624.5L886.5,622.5L880.9,623.9L875.1,625.3L869.4,626.6L863.6,627.9L857.9,629.1Z"/>
<path class="s" fill="#f9de00" d="M846.7,574.5L852.7,572.9L858.6,571.4L864.6,569.8L870.5,568.2L871.4,577.0L867.5,585.8L867.6,594.5L867.3,600.0L866.9,605.4L867.5,613.5L862.7,614.5L857.8,615.5L856.2,608.1L854.5,600.7L851.4,596.6L850.3,593.0L848.9,583.6L846.7,574.5Z"/>
<path class="s" fill="#4b0078" d="M870.5,568.2L870.8,564.1L874.2,561.6L876.6,568.7L879.0,575.9L881.1,582.2L883.1,588.5L885.2,595.8L888.4,599.8L890.4,600.8L889.8,604.9L885.1,607.5L884.3,609.7L878.7,611.0L873.1,612.3L867.5,613.5L866.9,605.4L867.3,600.0L867.6,594.5L867.5,585.8L871.4,577.0L870.5,568.2Z"/>
<path class="s" fill="#6e0000" d="M874.2,561.6L877.6,558.7L880.9,551.0L880.5,542.3L881.2,532.4L884.0,524.2L886.8,516.0L889.8,518.2L892.3,519.9L895.5,517.1L898.8,514.4L902.7,516.1L906.6,517.7L908.9,525.3L911.2,532.9L913.6,540.5L918.9,542.8L920.7,548.6L924.5,549.5L929.4,554.9L926.3,559.1L923.2,563.2L920.0,566.6L916.8,570.0L912.6,569.8L908.3,569.6L907.6,576.7L903.2,581.0L898.8,585.2L893.7,589.5L891.2,596.1L890.4,600.8L888.4,599.8L885.2,595.8L883.1,588.5L881.1,582.2L879.0,575.9L876.6,568.7L874.2,561.6Z"/>
<path fill="#4e5c5c" stroke="#3a5a5a" stroke-width="0.8" d="M217.3,494.7L220.2,497.2L219.4,506.2L216.1,512.8L216.9,518.6L211.2,522.7L205.4,521.9L203.7,519.4L207.0,514.4L211.2,508.7L212.8,502.9L214.9,498.0Z"/>
<circle cx="206" cy="520" r="1.1" fill="#fff"/><circle cx="214" cy="517.5" r="0.8" fill="#c8d0d0"/><circle cx="214.3" cy="513.4" r="0.8" fill="#c8d0d0"/><ellipse cx="210.3" cy="514.8" rx="1.4" ry="0.8" fill="#e00000"/>
<path fill="none" stroke="#141a1a" stroke-width="2.2" stroke-linecap="round" stroke-linejoin="round" d="M210.6,493.3L213.6,497.5"/>
<path fill="none" stroke="#4c6464" stroke-width="2.4" stroke-linecap="round" stroke-linejoin="round" d="M166.0,687.1L172.0,689.5L178.4,691.2"/>
<path fill="none" stroke="#4c6464" stroke-width="2.6" stroke-linecap="round" stroke-linejoin="round" d="M166.0,688.0L166.6,696.3"/>
<circle cx="166.2" cy="687.6" r="0.9" fill="#fff"/><circle cx="166.4" cy="696.2" r="0.9" fill="#fff"/>
<path fill="none" stroke="#4c6464" stroke-width="2" stroke-linecap="round" stroke-linejoin="round" d="M827.2,714.7L832.7,718.8L838.1,724.3L840.9,729.7"/>
<path fill="none" stroke="#4c6464" stroke-width="2" stroke-linecap="round" stroke-linejoin="round" d="M831.3,725.6L836.8,729.7L841.6,733.9"/>
<path fill="none" stroke="#4c6464" stroke-width="2" stroke-linecap="round" stroke-linejoin="round" d="M832.7,731.1L839.5,734.5L845.0,736.6"/>
<path fill="none" stroke="#141a1a" stroke-width="1.6" stroke-linecap="round" stroke-linejoin="round" d="M846.8,740.9L852.6,748.3L858.3,754.1L860.0,761.5L855.8,764.0L852.1,767.2"/>
<path fill="none" stroke="#4a6a50" stroke-width="1.4" stroke-linecap="round" stroke-linejoin="round" d="M843.9,748.1L838.6,746.7L834.4,745.0"/>
<path fill="none" stroke="#4a6a50" stroke-width="1.4" stroke-linecap="round" stroke-linejoin="round" d="M844.3,760.2L839.4,761.5L834.9,761.9"/>
<path fill="none" stroke="#4a6a50" stroke-width="1.4" stroke-linecap="round" stroke-linejoin="round" d="M844.3,765.6L840.2,769.7L836.1,769.3"/>
<path fill="none" stroke="#4c6464" stroke-width="3" stroke-linecap="round" stroke-linejoin="round" d="M832.8,687.4L831.2,693.2L832.8,700.6"/>
<path fill="none" stroke="#1c2424" stroke-width="2" stroke-linecap="round" stroke-linejoin="round" d="M635.6,553.5L646.3,544.9"/>
<path fill="none" stroke="#1c2424" stroke-width="1.6" stroke-linecap="round" stroke-linejoin="round" d="M177.0,772.4L182.0,773.8L187.0,774.2"/>
<path fill="none" stroke="#1c2424" stroke-width="1.6" stroke-linecap="round" stroke-linejoin="round" d="M199.8,785.6L203.5,791.4"/>
<path fill="none" stroke="#1c2424" stroke-width="1.6" stroke-linecap="round" stroke-linejoin="round" d="M197.7,799.2L202.3,801.7"/>
<path fill="none" stroke="#1c2424" stroke-width="1.4" stroke-linecap="round" stroke-linejoin="round" d="M815.8,967.1L818.5,963.0L820.3,958.1"/>
<ellipse cx="644" cy="888.2" rx="3.4" ry="2.1" fill="#fff" stroke="#4c6464" stroke-width="1"/>
<ellipse cx="898.4" cy="633" rx="2" ry="1" fill="#1c2424"/><ellipse cx="909" cy="630.6" rx="1.8" ry="1" fill="#1c2424"/>
<g transform="translate(1.3,1.9)">
<path fill="none" stroke="#2e6e6e" stroke-width="1.6" stroke-linecap="round" stroke-linejoin="round" d="M563.8,898.5L566.9,902.6"/>
<path fill="none" stroke="#2e6e6e" stroke-width="1.6" stroke-linecap="round" stroke-linejoin="round" d="M570.0,898.5L566.9,902.6"/>
<path fill="none" stroke="#2e6e6e" stroke-width="1.8" stroke-linecap="round" stroke-linejoin="round" d="M538.4,918.4L541.2,922.5L544.6,919.8L546.6,918.4"/>
<path fill="none" stroke="#2e6e6e" stroke-width="2.2" stroke-linecap="round" stroke-linejoin="round" d="M523.3,934.9L527.4,932.1L532.2,928.0L537.0,925.3L540.5,921.2"/>
<path fill="none" stroke="#2e6e6e" stroke-width="1.8" stroke-linecap="round" stroke-linejoin="round" d="M519.2,944.5L522.6,945.8L524.0,941.7"/>
<path fill="none" stroke="#2e6e6e" stroke-width="2" stroke-linecap="round" stroke-linejoin="round" d="M523.3,948.6L524.0,954.1L526.1,962.3L526.7,968.5"/>
<circle cx="567.9" cy="901.6" r="0.8" fill="#fff"/>
<circle cx="543.9" cy="923.2" r="0.8" fill="#fff"/>
<circle cx="528.1" cy="936.6" r="0.8" fill="#fff"/>
<circle cx="523.9" cy="953.0" r="0.8" fill="#fff"/>
<circle cx="525.9" cy="961.6" r="0.8" fill="#fff"/>
<circle cx="526.4" cy="965.0" r="0.8" fill="#fff"/>
</g>
<path fill="none" stroke="#182424" stroke-width="1.3" stroke-linecap="round" stroke-linejoin="round" d="M583.9,899.6L569.9,906.5L563.4,911.3L550.2,920.7L541.9,925.4L531.9,933.8L525.9,944.9L524.9,954.3L528.9,970.0"/>
<path class="ak" fill="#fff" d="M213.5,863.1L218.3,864.4L223.8,867.2L232.0,867.9L243.1,867.9L250.6,870.6L263.0,929.1L267.1,927.0L271.9,931.8L277.4,933.9L278.8,928.4L282.9,929.1L292.6,936.7L300.8,943.5L306.3,945.6L307.7,950.4L305.0,954.5L299.4,955.2L295.3,951.8L291.2,952.5L285.7,944.9L281.6,938.0L276.1,936.7L269.2,933.2L262.3,932.5L254.1,933.2L249.9,932.5L245.8,930.5L243.1,927.0L239.6,931.2L237.6,935.3L232.0,939.4L227.9,940.1L224.5,936.7L227.9,931.2L232.0,926.3L227.2,931.2L223.1,936.0L222.4,940.1L227.2,944.9L229.3,946.3L225.9,950.4L222.4,954.5L218.3,957.3L215.5,954.5L218.3,949.0L221.7,945.6L219.7,946.3L214.2,952.5L210.0,957.3L201.8,961.4L193.5,964.9L182.5,967.6L174.3,970.4L168.8,973.8L163.3,975.4L155.0,975.4L160.5,973.1L168.8,971.0L174.3,968.0L182.5,964.9L193.5,960.7L201.8,956.6L206.6,951.1L208.7,946.3L209.4,942.8L203.2,940.8L200.4,943.5L193.5,944.2L194.9,939.4L193.5,932.5L189.4,933.9L186.7,929.1L183.2,922.2L186.7,918.8L189.4,913.3L194.9,910.5L199.7,910.5L200.4,903.6L193.5,905.0L186.0,903.6L181.8,896.8L185.3,894.0L192.2,891.3L196.3,895.4L199.7,892.6L196.3,890.6L194.9,885.1L190.8,880.9L190.8,876.1L198.3,874.8L201.8,868.6L208.7,865.8Z"/>
<path class="ak" fill="#fff" d="M168.1,904.3L172.9,903.6L175.0,907.1L179.1,909.8L175.0,912.6L171.5,907.8Z"/>
<path class="ak" fill="#fff" d="M159.1,922.9L164.0,925.7L162.6,926.8L158.5,924.3Z"/>
<path class="ak" fill="#fff" d="M177.0,929.8L182.5,928.7L184.2,931.8L181.2,934.2Z"/>
<path class="ak" fill="#fff" d="M163.5,946.3L166.3,947.0L166.7,951.5L164.6,952.1Z"/>
<path class="ak" fill="#fff" d="M108.3,964.2L111.7,962.1L115.1,966.2L119.3,966.9L116.5,971.0L113.1,968.3Z"/>
<path class="ak" fill="#fff" d="M125.4,969.0L129.6,971.7L135.8,972.4L142.6,971.7L150.9,974.9L145.4,976.5L138.5,974.5L131.6,975.2L126.1,973.1Z"/>
<ellipse cx="242.4" cy="931.2" rx="3" ry="1.8" transform="rotate(-50 242.4 931.2)" fill="#777" stroke="#222" stroke-width="0.8"/>
<path class="ak" fill="none" d="M278.1,934.6L284.3,939.4L289.8,946.3L295.3,946.3L299.4,950.4L303.6,949.0"/>
<path class="ik" fill="#d40000" d="M325.5,916.5L328.5,913.5L334.0,913.5L335.0,917.0L333.5,920.0L330.0,920.0L327.0,918.0Z"/>
<path class="ik" fill="#d40000" d="M353.5,924.5L357.0,921.5L361.5,926.0L364.0,930.0L362.0,931.0L359.0,929.0L356.0,929.5Z"/>
<path class="ik" fill="#d40000" d="M369.0,930.0L378.0,931.5L379.0,933.5L370.0,933.5Z"/>
<path class="ik" fill="#d40000" d="M375.0,937.0L379.0,939.0L377.0,941.0L374.5,939.5Z"/>
<path class="ik" fill="#d40000" d="M381.0,935.0L384.0,937.0L388.5,935.5L393.5,939.5L391.0,941.5L385.5,943.0L384.0,939.0L381.5,938.0Z"/>
<path class="ik" fill="#d40000" d="M394.5,948.0L400.0,951.0L407.0,952.0L411.5,957.5L415.0,962.5L408.0,967.5L402.0,971.0L398.5,974.0L395.0,971.0L395.0,964.0L392.5,957.5L395.0,953.0Z"/>
<path class="ik" fill="#111" d="M317.5,920.0L320.0,917.5L322.5,916.8L322.0,918.5L319.0,921.5Z"/>
<path class="ik" fill="#60f400" d="M72.4,736.0L75.7,732.3L80.7,730.7L87.2,731.1L94.7,733.6L99.6,738.5L97.9,742.6L91.4,748.8L90.5,750.4L88.1,748.4L83.1,747.6L77.4,750.0L70.8,755.0L65.8,759.9L59.3,762.4L52.7,764.0L48.6,763.6L52.7,758.3L56.0,754.1L62.6,752.9L68.3,750.8L72.4,746.7L74.5,742.6L73.3,739.3Z"/>
<path class="ik" fill="#60f400" d="M15.6,775.5L17.7,772.7L24.7,771.4L34.6,770.6L41.2,769.8L49.4,771.0L50.2,773.1L46.9,776.8L39.5,778.0L31.3,778.8L24.7,780.1L18.9,779.2Z"/>
<path class="ik" fill="#60f400" d="M48.6,793.6L53.5,792.0L58.4,786.6L64.2,787.1L69.5,788.3L69.5,790.3L62.6,791.6L57.6,792.8L52.7,794.1L49.4,794.9Z"/>
<path class="i" fill="#6e0000" d="M555.4,999.3L561.5,994.9L563.3,990.5L582.5,991.4L600.0,990.5L617.5,991.9L628.0,993.1L635.9,994.9L635.0,1001.0L638.5,1005.4L633.3,1008.9L629.8,1014.1L621.0,1018.5L612.3,1020.3L603.5,1022.0L591.3,1020.3L582.5,1022.0L572.0,1022.9L558.9,1022.0L559.8,1013.3L557.1,1006.3Z"/>
<path class="i" fill="#6e0000" d="M633.3,1010.6L642.0,1007.7L650.8,1007.7L645.5,1010.1L636.8,1012.4Z"/>
<path class="ik" fill="#111" d="M643.8,993.1L650.8,994.9L649.0,997.5Z"/>
<path class="ik" fill="#9ef700" d="M697.3,980.6L699.1,978.6L702.5,978.2L705.3,975.1L709.4,974.1L713.5,971.3L716.3,971.0L719.0,972.4L719.7,968.3L723.1,969.6L727.3,971.7L732.1,972.7L736.9,973.4L741.0,975.5L746.5,974.8L745.8,976.8L741.0,977.2L736.9,978.9L735.5,980.6L736.2,983.0L732.1,982.0L727.3,982.3L724.8,982.7L724.2,979.9L722.4,978.2L720.4,979.3L720.7,982.0L722.4,983.7L721.8,985.8L719.0,987.2L715.6,988.2L716.9,984.8L715.6,982.0L712.1,979.9L709.4,979.9L705.9,982.0L702.5,982.3L699.1,982.0Z"/>
<path class="ik" fill="#9ef700" d="M745.1,984.4L747.2,980.6L749.9,976.5L754.1,974.8L753.7,971.7L758.9,970.3L764.4,968.9L767.1,971.0L769.9,971.7L769.2,967.6L772.6,966.5L778.8,967.6L778.1,969.3L773.3,969.6L771.3,971.3L774.7,973.4L776.8,977.2L775.4,980.6L772.6,978.6L769.2,979.3L766.4,977.2L763.7,979.9L758.9,982.7L754.8,984.8L752.0,987.8L747.9,986.8Z"/>
<path class="ik" fill="#9ef700" d="M681.2,1006.1L685.3,1004.0L692.2,1003.3L696.3,1000.6L702.5,996.4L708.7,994.0L710.1,996.4L712.5,995.8L712.8,991.6L716.3,993.7L720.4,997.1L725.2,997.1L729.3,994.4L735.5,993.7L741.0,994.0L747.9,993.7L752.7,992.3L756.1,990.9L754.1,994.4L750.6,997.1L745.8,999.2L741.7,999.2L738.3,1000.6L738.9,1004.0L735.5,1003.0L730.0,1004.7L723.8,1006.8L717.6,1009.5L714.2,1011.2L710.8,1010.9L711.4,1012.9L714.5,1015.0L713.2,1018.4L708.7,1015.0L704.6,1014.3L701.1,1015.0L697.7,1018.4L694.3,1020.2L690.8,1018.4L687.4,1021.2L681.2,1024.3L680.8,1020.5L682.6,1016.4L683.9,1012.9L681.9,1009.5Z"/>
<path class="i2" fill="#6e0000" d="M925.7,639.9L936.0,640.6L937.4,649.5L944.3,652.2L947.7,657.0L949.1,668.0L942.9,670.8L939.5,674.9L940.1,679.0L936.0,681.7L930.5,683.8L927.8,680.4L924.4,676.9L927.1,672.1L925.7,665.3L923.7,662.5L925.0,654.3L925.7,647.4Z"/>
<path class="i2" fill="#6e0000" d="M913.4,679.0L923.0,675.6L925.7,683.1L923.7,688.6L918.9,694.8L914.1,698.2L912.7,692.7L914.8,685.8Z"/>
<path class="i2" fill="none" d="M936.0,640.6L934.7,649.5L929.2,655.0L927.8,661.2L925.7,665.3"/>
<path class="i2" fill="none" d="M929.2,655.0L936.0,657.0L937.4,649.5"/>
<circle cx="932.9" cy="654.6" r="1.2" fill="#fff"/>
<path class="ik" fill="#d40000" d="M921.6,738.7L947.7,749.6L946.3,764.0L943.6,779.8L938.1,768.1L929.8,759.9L924.4,755.8L918.2,755.8Z"/>
<text class="lab" x="5.3" y="706.6" textLength="94.7" lengthAdjust="spacingAndGlyphs">N. Mariana Islands</text>
<text class="lab" x="307.0" y="888.5" textLength="34.0" lengthAdjust="spacingAndGlyphs">Hawaii</text>
<text class="lab" x="232.0" y="982.7" textLength="33.7" lengthAdjust="spacingAndGlyphs">Alaska</text>
<text class="lab" x="545.4" y="964.3" textLength="59.0" lengthAdjust="spacingAndGlyphs">Puerto Rico</text>
<text class="lab" x="725.1" y="1047.9" textLength="68.3" lengthAdjust="spacingAndGlyphs">Virgin Islands</text>
<text class="lab" x="887.3" y="722.9" textLength="70.0" lengthAdjust="spacingAndGlyphs">New York City</text>
<text class="lab" x="854.4" y="806.6" textLength="98.1" lengthAdjust="spacingAndGlyphs">District of Columbia</text>
</g>
<g id="legend">
<text x="1201.2" y="439.1" font-family="Liberation Sans,Arial,sans-serif" font-weight="400" font-size="25.6" fill="#141414" stroke="#141414" stroke-width="0.9" textLength="178" lengthAdjust="spacingAndGlyphs">ILI Activity Level</text>
<rect x="1201.5" y="461.3" width="20" height="20.5" rx="3.2" ry="3.2" fill="#4b0078" stroke="#2a0050" stroke-width="1"/>
<rect x="1201.5" y="493.2" width="20" height="20.5" rx="3.2" ry="3.2" fill="#6e0000" stroke="#3a0000" stroke-width="1"/>
<rect x="1201.5" y="525.1" width="20" height="20.5" rx="3.2" ry="3.2" fill="#990000" stroke="#5a0000" stroke-width="1"/>
<rect x="1201.5" y="557.1" width="20" height="20.5" rx="3.2" ry="3.2" fill="#cc0000" stroke="#8a0000" stroke-width="1"/>
<rect x="1201.5" y="589.0" width="20" height="20.5" rx="3.2" ry="3.2" fill="#ff5500" stroke="#c04000" stroke-width="1"/>
<rect x="1201.5" y="620.9" width="20" height="20.5" rx="3.2" ry="3.2" fill="#ff8800" stroke="#c06800" stroke-width="1"/>
<rect x="1201.5" y="652.8" width="20" height="20.5" rx="3.2" ry="3.2" fill="#ffb300" stroke="#c08a00" stroke-width="1"/>
<rect x="1201.5" y="684.7" width="20" height="20.5" rx="3.2" ry="3.2" fill="#ffdd00" stroke="#bfa600" stroke-width="1"/>
<rect x="1201.5" y="716.7" width="20" height="20.5" rx="3.2" ry="3.2" fill="#e6f500" stroke="#a8b400" stroke-width="1"/>
<rect x="1201.5" y="748.6" width="20" height="20.5" rx="3.2" ry="3.2" fill="#c8f700" stroke="#90b800" stroke-width="1"/>
<rect x="1201.5" y="780.5" width="20" height="20.5" rx="3.2" ry="3.2" fill="#8cf700" stroke="#60b400" stroke-width="1"/>
<rect x="1201.5" y="812.4" width="20" height="20.5" rx="3.2" ry="3.2" fill="#5af000" stroke="#38a800" stroke-width="1"/>
<rect x="1201.5" y="844.3" width="20" height="20.5" rx="3.2" ry="3.2" fill="#00b400" stroke="#007800" stroke-width="1"/>
<rect x="1201.5" y="876.3" width="20" height="20.5" rx="3.2" ry="3.2" fill="#ffffff" stroke="#8a8a8a" stroke-width="1"/>
<path d="M1228.5,471.5H1249V535.3H1228.5" fill="none" stroke="#141414" stroke-width="1.4"/>
<path d="M1228.5,567.3H1249V631.1H1228.5" fill="none" stroke="#141414" stroke-width="1.4"/>
<path d="M1228.5,663.0H1249V694.9H1228.5" fill="none" stroke="#141414" stroke-width="1.4"/>
<path d="M1228.5,726.9H1249V758.8H1228.5" fill="none" stroke="#141414" stroke-width="1.4"/>
<path d="M1228.5,790.7H1249V854.5H1228.5" fill="none" stroke="#141414" stroke-width="1.4"/>
<path d="M1228.5,886.5H1249" stroke="#141414" stroke-width="1.4"/>
<text class="leg" x="1254" y="509.4">Very High</text>
<text class="leg" x="1254" y="605.3">High</text>
<text class="leg" x="1254" y="684.0">Moderate</text>
<text class="leg" x="1254" y="748.0">Low</text>
<text class="leg" x="1254" y="829.0">Minimal</text>
<text class="leg" x="1254" y="892.5">Insufficient Data</text>
</g>
</svg>
<div id="foot">
<div>*This map uses the proportion of outpatient visits to healthcare providers for influenza-like illness to measure the ILI activity level within a state. It</div>
<div>does not, however, measure the extent of geographic spread of flu within a state. Therefore, outbreaks occurring in a single city could cause the</div>
<div>state to display high activity levels.</div>
<div>*Data collected in ILINet may disproportionately represent certain populations within a state, and therefore may not accurately depict the full</div>
<div>picture of influenza activity for the whole state.</div>
<div>*Data displayed in this map are based on data collected in ILINet, whereas the State and Territorial flu activity map are based on reports from</div>
<div>state and territorial epidemiologists. The data presented in this map is preliminary and may change as more data is received.</div>
<div>*Differences in the data presented by CDC and state health departments likely represent differing levels of data completeness with data</div>
<div>presented by the state likely being the more complete.</div>
<div>*For the data download you can use Activity Level for the number and Activity Level Label for the text description.</div>
<div>*This graphic notice means that you are leaving an HHS Web site.</div>
<div>For more information, please see CDC's Exit Notification and Disclaimer policy.</div>
<div>For more information on the methodology, please visit Outpatient Illness Surveillance methods section.</div>
</div>
</body></html>
